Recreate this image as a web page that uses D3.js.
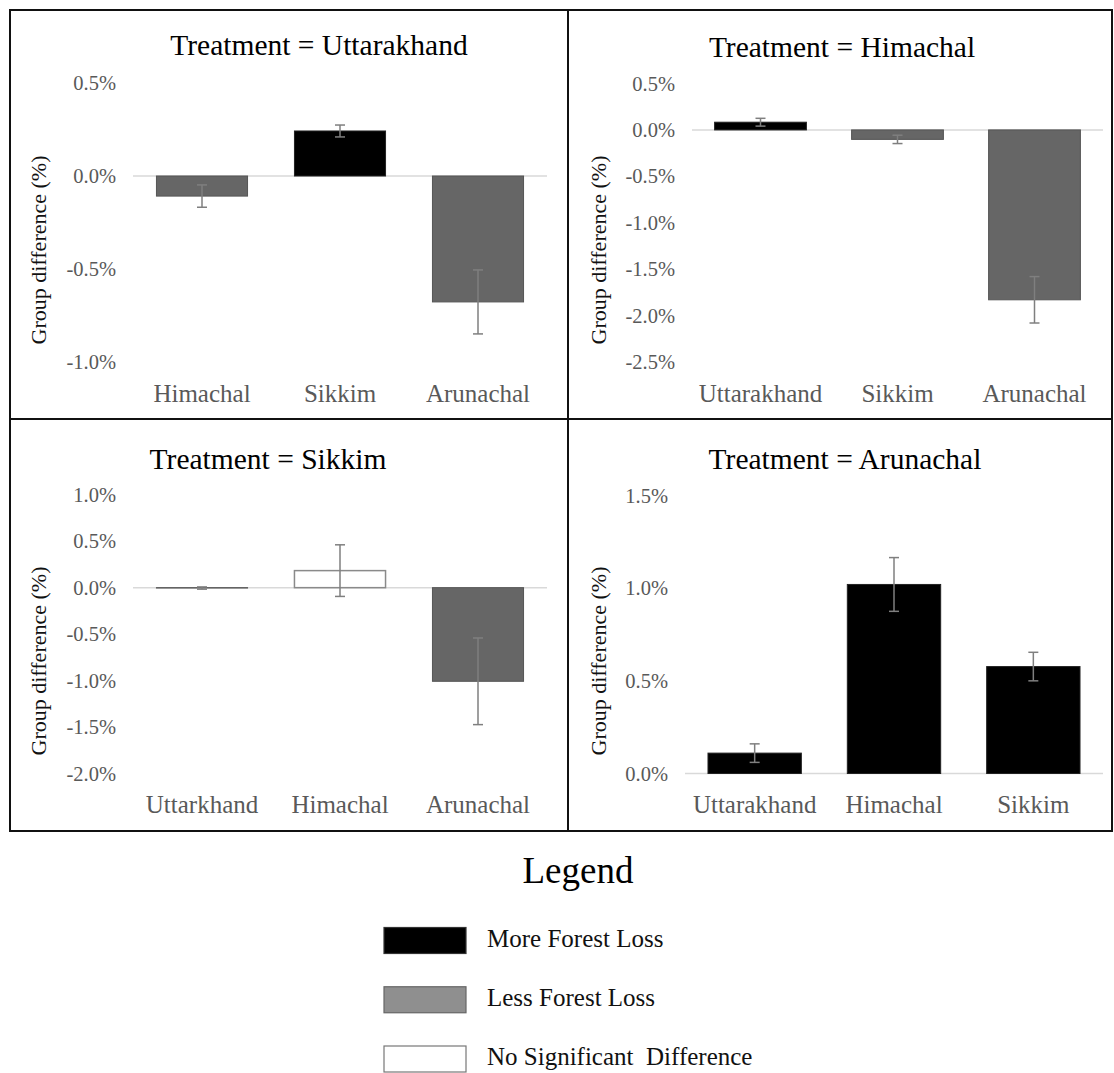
<!DOCTYPE html>
<html>
<head>
<meta charset="utf-8">
<script src="https://cdn.jsdelivr.net/npm/d3@7"></script>
<style>
  body { margin: 0; background: #fff; }
  svg { display: block; font-family: "Liberation Serif", "Times New Roman", serif; }
</style>
</head>
<body>
<svg width="1114" height="1073"></svg>
<script>
(function (d3) {
    'use strict';

    // panel titles
    const treatments = ['Uttarakhand', 'Himachal', 'Sikkim', 'Arunachal'];

    // Treatment = Uttarakhand
    const uttCats = ['Himachal', 'Sikkim', 'Arunachal'];
    const uttValues = [-0.108, 0.242, -0.677];
    const uttErrors = [0.06, 0.032, 0.172];
    const uttGroups = ['less', 'more', 'less'];
    const uttTicks = [0.5, 0.0, -0.5, -1.0];

    // Treatment = Himachal
    const himCats = ['Uttarakhand', 'Sikkim', 'Arunachal'];
    const himValues = [0.083, -0.102, -1.83];
    const himErrors = [0.042, 0.045, 0.25];
    const himGroups = ['more', 'less', 'less'];
    const himTicks = [0.5, 0.0, -0.5, -1.0, -1.5, -2.0, -2.5];

    // Treatment = Sikkim
    const sikCats = ['Uttarkhand', 'Himachal', 'Arunachal'];
    const sikValues = [-0.004, 0.183, -1.005];
    const sikErrors = [0.012, 0.277, 0.465];
    const sikGroups = ['less', 'none', 'less'];
    const sikTicks = [1.0, 0.5, 0.0, -0.5, -1.0, -1.5, -2.0];

    // Treatment = Arunachal
    const aruCats = ['Uttarakhand', 'Himachal', 'Sikkim'];
    const aruValues = [0.11, 1.02, 0.577];
    const aruErrors = [0.05, 0.145, 0.077];
    const aruGroups = ['more', 'more', 'more'];
    const aruTicks = [1.5, 1.0, 0.5, 0.0];

    // legend
    const legendKeys = ['more', 'less', 'none'];
    const legendLabels = ['More Forest Loss', 'Less Forest Loss', 'No Significant\u00a0 Difference'];

    const yAxisTitle = 'Group difference (%)';

    const fillFor = { more: '#000000', less: '#666666', none: '#ffffff' };
    const strokeFor = { more: '#222222', less: '#555555', none: '#8a8a8a' };
    const legendFill = { more: '#000000', less: '#8f8f8f', none: '#ffffff' };
    const legendStroke = { more: '#333333', less: '#666666', none: '#777777' };

    const panelData = [
        { cats: uttCats, values: uttValues, errors: uttErrors, groups: uttGroups, ticks: uttTicks },
        { cats: himCats, values: himValues, errors: himErrors, groups: himGroups, ticks: himTicks },
        { cats: sikCats, values: sikValues, errors: sikErrors, groups: sikGroups, ticks: sikTicks },
        { cats: aruCats, values: aruValues, errors: aruErrors, groups: aruGroups, ticks: aruTicks }
    ];

    // layout of the 2x2 grid (pixels)
    const layout = [
        { box: [10, 10, 568, 419],   x: [133, 547],  y: [83, 362],   titleX: 319, titleY: 55,  labelY: 402, axisX: 38,  axisY: 250, pad: 0.34 },
        { box: [568, 10, 1112, 419], x: [692, 1103], y: [83.5, 362], titleX: 842, titleY: 57,  labelY: 402, axisX: 598, axisY: 250, pad: 0.33 },
        { box: [10, 419, 568, 831],  x: [133, 547],  y: [494.5, 774], titleX: 268, titleY: 469, labelY: 813, axisX: 38,  axisY: 661, pad: 0.34 },
        { box: [568, 419, 1112, 831], x: [685, 1103], y: [495.5, 773.5], titleX: 845, titleY: 469, labelY: 813, axisX: 598, axisY: 661, pad: 0.33 }
    ];

    const svg = d3.select('svg');

    const render = (data, lay, title) => {
        const g = svg.append('g');

        const [bx0, by0, bx1, by1] = lay.box;
        g.append('rect')
            .attr('x', bx0).attr('y', by0)
            .attr('width', bx1 - bx0).attr('height', by1 - by0)
            .attr('fill', 'none')
            .attr('stroke', '#111')
            .attr('stroke-width', 2);

        const ticks = data.ticks;
        const yScale = d3.scaleLinear()
            .domain([d3.max(ticks), d3.min(ticks)])
            .range(lay.y);

        const xScale = d3.scaleBand()
            .domain(data.cats)
            .range(lay.x)
            .paddingInner(lay.pad)
            .paddingOuter(lay.pad / 2);

        // y axis labels
        const yAxis = d3.axisLeft(yScale)
            .tickValues(ticks)
            .tickSize(0)
            .tickPadding(17)
            .tickFormat(d => d.toFixed(1) + '%');
        const yAxisG = g.append('g')
            .attr('transform', `translate(${lay.x[0]},0)`)
            .call(yAxis);
        yAxisG.select('.domain').remove();
        yAxisG.selectAll('text')
            .attr('fill', '#595959')
            .attr('font-size', 20.5)
            .attr('font-family', '"Liberation Serif", serif');

        // zero line
        g.append('line')
            .attr('x1', lay.x[0]).attr('x2', lay.x[1])
            .attr('y1', yScale(0)).attr('y2', yScale(0))
            .attr('stroke', '#d9d9d9')
            .attr('stroke-width', 1.5);

        const rows = data.cats.map((c, i) => ({
            cat: c, value: data.values[i], err: data.errors[i], group: data.groups[i]
        }));

        // bars
        g.selectAll('rect.bar').data(rows)
            .enter().append('rect')
            .attr('class', 'bar')
            .attr('x', d => xScale(d.cat))
            .attr('width', xScale.bandwidth())
            .attr('y', d => yScale(Math.max(0, d.value)))
            .attr('height', d => Math.abs(yScale(d.value) - yScale(0)))
            .attr('fill', d => fillFor[d.group])
            .attr('stroke', d => strokeFor[d.group])
            .attr('stroke-width', d => d.group === 'none' ? 1.5 : 1);

        // error bars
        const capHalf = 5;
        const eb = g.selectAll('g.err').data(rows)
            .enter().append('g')
            .attr('class', 'err')
            .attr('stroke', '#7f7f7f')
            .attr('stroke-width', 1.5);
        eb.append('line')
            .attr('x1', d => xScale(d.cat) + xScale.bandwidth() / 2)
            .attr('x2', d => xScale(d.cat) + xScale.bandwidth() / 2)
            .attr('y1', d => yScale(d.value + d.err))
            .attr('y2', d => yScale(d.value - d.err));
        eb.append('line')
            .attr('x1', d => xScale(d.cat) + xScale.bandwidth() / 2 - capHalf)
            .attr('x2', d => xScale(d.cat) + xScale.bandwidth() / 2 + capHalf)
            .attr('y1', d => yScale(d.value + d.err))
            .attr('y2', d => yScale(d.value + d.err));
        eb.append('line')
            .attr('x1', d => xScale(d.cat) + xScale.bandwidth() / 2 - capHalf)
            .attr('x2', d => xScale(d.cat) + xScale.bandwidth() / 2 + capHalf)
            .attr('y1', d => yScale(d.value - d.err))
            .attr('y2', d => yScale(d.value - d.err));

        // category labels
        const xAxis = d3.axisBottom(xScale).tickSize(0).tickPadding(0);
        const xAxisG = g.append('g')
            .attr('transform', `translate(0,${lay.labelY})`)
            .call(xAxis);
        xAxisG.select('.domain').remove();
        xAxisG.selectAll('text')
            .attr('y', 0)
            .attr('dy', 0)
            .attr('fill', '#595959')
            .attr('font-size', 25)
            .attr('font-family', '"Liberation Serif", serif');

        // y axis title
        g.append('text')
            .attr('transform', `translate(${lay.axisX},${lay.axisY}) rotate(-90)`)
            .attr('text-anchor', 'middle')
            .attr('dy', '0.35em')
            .attr('font-size', 22)
            .attr('fill', '#111')
            .text(yAxisTitle);

        // panel title
        g.append('text')
            .attr('x', lay.titleX)
            .attr('y', lay.titleY)
            .attr('text-anchor', 'middle')
            .attr('font-size', 29.5)
            .attr('fill', '#000')
            .text(`Treatment = ${title}`);
    };

    panelData.forEach((p, i) => render(p, layout[i], treatments[i]));

    // legend
    svg.append('text')
        .attr('x', 578)
        .attr('y', 883)
        .attr('text-anchor', 'middle')
        .attr('font-size', 37)
        .attr('fill', '#000')
        .text('Legend');

    const legendY = d3.scalePoint()
        .domain(legendKeys)
        .range([927.5, 1046]);

    const lg = svg.selectAll('g.legend').data(legendKeys)
        .enter().append('g')
        .attr('class', 'legend')
        .attr('transform', d => `translate(384,${legendY(d)})`);
    lg.append('rect')
        .attr('width', 82)
        .attr('height', 26)
        .attr('fill', d => legendFill[d])
        .attr('stroke', d => legendStroke[d])
        .attr('stroke-width', 1.2);
    lg.append('text')
        .attr('x', 103)
        .attr('y', 19)
        .attr('font-size', 25)
        .attr('fill', '#111')
        .text((d, i) => legendLabels[i]);

}(d3));
</script>
</body>
</html>
